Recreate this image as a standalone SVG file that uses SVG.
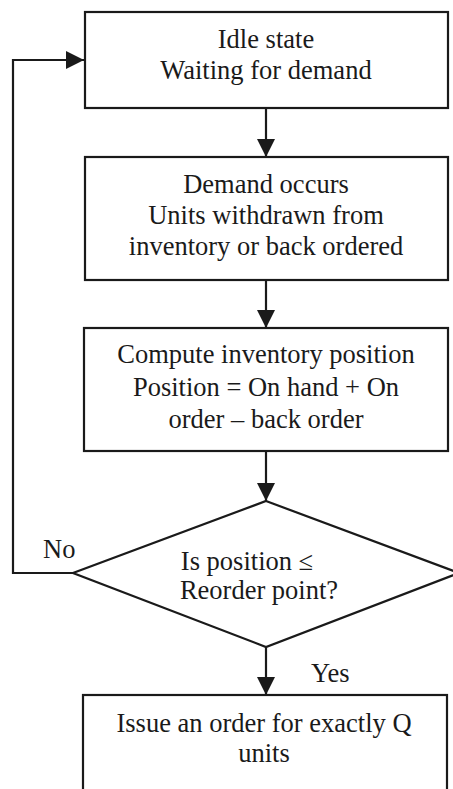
<svg xmlns="http://www.w3.org/2000/svg" width="453" height="789" viewBox="0 0 453 789">
  <style>
    .box { fill: #ffffff; stroke: #1a1a1a; stroke-width: 2.2; }
    .line { fill: none; stroke: #1a1a1a; stroke-width: 2.2; }
    text { font-family: "Liberation Serif", "Times New Roman", serif; font-size: 26.5px; fill: #1a1a1a; text-anchor: middle; }
    .lbl { text-anchor: start; }
  </style>
  <defs>
    <marker id="arrow" viewBox="0 0 18 22" refX="18" refY="11" markerWidth="18" markerHeight="22" markerUnits="userSpaceOnUse" orient="auto">
      <path d="M0,2 L18,11 L0,20 Z" fill="#1a1a1a"/>
    </marker>
  </defs>
  <rect width="453" height="789" fill="#ffffff"/>

  <g id="connectors">
    <line class="line" x1="266" y1="108" x2="266" y2="157" marker-end="url(#arrow)"/>
    <line class="line" x1="266" y1="280" x2="266" y2="328" marker-end="url(#arrow)"/>
    <line class="line" x1="266" y1="451" x2="266" y2="501" marker-end="url(#arrow)"/>
    <line class="line" x1="266" y1="647" x2="266" y2="695" marker-end="url(#arrow)"/>
    <polyline class="line" points="73,573 13,573 13,60 84,60" marker-end="url(#arrow)"/>
    <text class="lbl" x="43" y="558">No</text>
    <text class="lbl" x="311" y="682">Yes</text>
  </g>

  <g id="idle">
    <rect class="box" x="85" y="12" width="363" height="96"/>
    <text x="266" y="48">Idle state</text>
    <text x="266" y="79">Waiting for demand</text>
  </g>

  <g id="demand">
    <rect class="box" x="85" y="157" width="363" height="123"/>
    <text x="266" y="193">Demand occurs</text>
    <text x="266" y="224">Units withdrawn from</text>
    <text x="266" y="255">inventory or back ordered</text>
  </g>

  <g id="compute">
    <rect class="box" x="84" y="328" width="364" height="123"/>
    <text x="266" y="363">Compute inventory position</text>
    <text x="266" y="396">Position = On hand + On</text>
    <text x="266" y="428">order – back order</text>
  </g>

  <g id="decision">
    <polygon class="box" points="266,501 459,573 266,647 73,573"/>
    <text x="247" y="570">Is position ≤</text>
    <text x="259" y="599">Reorder point?</text>
  </g>

  <g id="issue">
    <rect class="box" x="83" y="695" width="364" height="110"/>
    <text x="264" y="732">Issue an order for exactly Q</text>
    <text x="264" y="762">units</text>
  </g>
</svg>
